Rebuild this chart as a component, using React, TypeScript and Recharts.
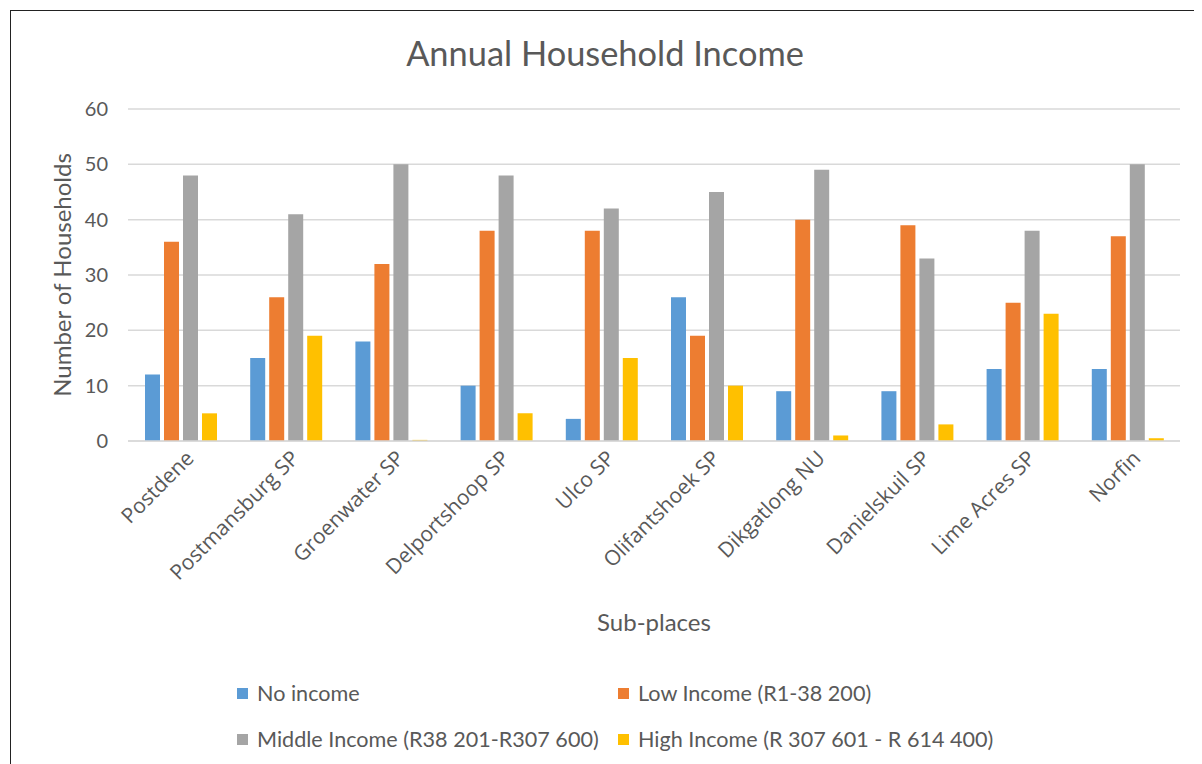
import { Bar, BarChart, CartesianGrid, Legend, XAxis, YAxis } from "recharts"

const places = [
  "Postdene",
  "Postmansburg SP",
  "Groenwater SP",
  "Delportshoop SP",
  "Ulco SP",
  "Olifantshoek SP",
  "Dikgatlong NU",
  "Danielskuil SP",
  "Lime Acres SP",
  "Norfin",
]

const noIncome = [12, 15, 18, 10, 4, 26, 9, 9, 13, 13]
const lowIncome = [36, 26, 32, 38, 38, 19, 40, 39, 25, 37]
const middleIncome = [48, 41, 50, 48, 42, 45, 49, 33, 38, 50]
const highIncome = [5, 19, 0.2, 5, 15, 10, 1, 3, 23, 0.5]

const yTicks = [0, 10, 20, 30, 40, 50, 60]

const series = [
  { key: "none", name: "No income", color: "#5b9bd5" },
  { key: "low", name: "Low Income (R1-38 200)", color: "#ed7d31" },
  { key: "middle", name: "Middle Income (R38 201-R307 600)", color: "#a5a5a5" },
  { key: "high", name: "High Income (R 307 601 - R 614 400)", color: "#ffc000" },
]

const data = places.map((place, i) => ({
  place,
  none: noIncome[i],
  low: lowIncome[i],
  middle: middleIncome[i],
  high: highIncome[i],
}))

const FONT = "Lato, 'Liberation Sans', sans-serif"
const TEXT = "#595959"

function LegendGrid() {
  return (
    <div
      style={{
        display: "grid",
        gridTemplateColumns: "381px 420px",
        gridAutoRows: 24,
        alignContent: "start",
        rowGap: 22,
        paddingLeft: 226,
        marginTop: -5,
        height: 83,
        boxSizing: "border-box",
        fontFamily: FONT,
        fontSize: 21.6,
        color: TEXT,
      }}
    >
      {series.map((s) => (
        <div key={s.key} style={{ display: "flex", alignItems: "center", height: 24, whiteSpace: "nowrap" }}>
          <span style={{ width: 11, height: 11, background: s.color, marginRight: 9 }} />
          <span>{s.name}</span>
        </div>
      ))}
    </div>
  )
}

export default function App() {
  return (
    <div
      style={{
        position: "relative",
        marginLeft: 2,
        marginTop: 2,
        width: 1188,
        height: 753,
        borderTop: "1px solid #222",
        borderLeft: "1px solid #222",
        borderRight: "1px solid #222",
        background: "#fff",
      }}
    >
      <div
        style={{
          position: "absolute",
          top: 21,
          left: 0,
          width: 1188,
          textAlign: "center",
          fontFamily: FONT,
          fontSize: 34.4,
          color: TEXT,
        }}
      >
        Annual Household Income
      </div>
      <BarChart
        width={1188}
        height={753}
        data={data}
        margin={{ top: 98, right: 19, left: 0, bottom: 0 }}
        barCategoryGap="16%"
        barGap={4}
        style={{ fontFamily: FONT }}
      >
        <CartesianGrid vertical={false} stroke="#d9d9d9" strokeWidth={1.5} />
        <XAxis
          dataKey="place"
          height={245}
          interval={0}
          tickLine={false}
          axisLine={{ stroke: "#d9d9d9", strokeWidth: 1.5 }}
          angle={-45}
          textAnchor="end"
          dx={4}
          tick={{ fill: TEXT, fontSize: 21, fontFamily: "'Open Sans', sans-serif" }}
          label={{ value: "Sub-places", position: "insideBottom", offset: 55, fill: TEXT, fontSize: 24 }}
        />
        <YAxis
          width={117}
          domain={[0, 60]}
          ticks={yTicks}
          axisLine={false}
          tickLine={false}
          tickMargin={14}
          tick={{ fill: TEXT, fontSize: 20 }}
          label={{
            value: "Number of Households",
            angle: -90,
            position: "insideLeft",
            offset: 51,
            style: { textAnchor: "middle" },
            fill: TEXT,
            fontSize: 24,
          }}
        />
        <Legend verticalAlign="bottom" content={() => <LegendGrid />} />
        {series.map((s) => (
          <Bar key={s.key} dataKey={s.key} name={s.name} fill={s.color} barSize={15} isAnimationActive={false} />
        ))}
      </BarChart>
    </div>
  )
}
